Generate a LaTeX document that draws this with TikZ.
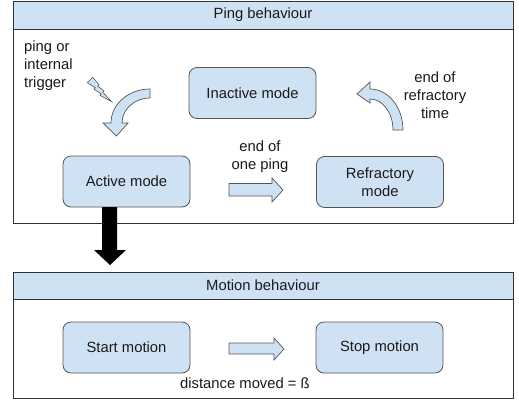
\documentclass[tikz,border=0pt]{standalone}
\usepackage{fontspec}
\setmainfont{Liberation Sans}
\begin{document}
\begin{tikzpicture}[x=1pt,y=-1pt,
  every node/.style={font=\fontsize{14.8}{18}\selectfont, text=txt},
  modebox/.style={draw=boxline, fill=lb, rounded corners=8pt, line width=0.8pt,
    minimum width=127pt, minimum height=51pt, align=center, inner sep=0pt},
  panel/.style={draw=panelline, line width=1pt},
  header/.style={draw=panelline, fill=lb, line width=1pt},
  blockarrow/.style={draw=boxline, fill=lb, line width=0.7pt, line join=miter},
  lbl/.style={align=center, inner sep=0pt}]
\definecolor{lb}{HTML}{CFE2F3}
\definecolor{boxline}{HTML}{555555}
\definecolor{panelline}{HTML}{333333}
\definecolor{txt}{HTML}{1A1A1A}
\useasboundingbox (0,0) rectangle (519,405);
% panels
\draw[panel, fill=white] (13,1) rectangle (513,223);
\draw[header] (13,1) rectangle (513,29);
\node[lbl] (pingtitle) at (263,15) {Ping behaviour};
\draw[panel, fill=white] (13,272) rectangle (513,398);
\draw[header] (13,272) rectangle (513,299);
\node[lbl] (motiontitle) at (263,285.5) {Motion behaviour};
% mode boxes
\node[modebox] (inactive) at (252.5,93) {Inactive mode};
\node[modebox] (active) at (126.5,181.5) {Active mode};
\node[modebox] (refractory) at (380,182) {Refractory\\mode};
\node[modebox] (start) at (126.5,347.5) {Start motion};
\node[modebox] (stop) at (379.5,347.5) {Stop motion};
% labels
\node[lbl, anchor=north west, align=left] (trig) at (24,40.5) {ping or\\internal\\trigger};
\node[lbl] (endping) at (260,157) {end of\\one ping};
\node[lbl] (endref) at (435,95) {end of\\refractory\\time};
\node[lbl] (dist) at (245,383) {distance moved = ß};
% lightning bolt
\draw[blockarrow, line width=0.6pt] (87.3,82.7) -- (92.7,77.3) -- (99.3,85) -- (97.8,86.3) -- (104,90.7) -- (102.7,92.2) -- (111.7,101.7) -- (100,95.3) -- (101.2,93.8) -- (94,89.3) -- (95.5,87.8) -- cycle;
% left curved arrow
\draw[blockarrow] (150,89) arc[start angle=-90, end angle=-180, x radius=39, y radius=34]
  -- (103,123) -- (116.5,136) -- (128,123) -- (122,123)
  arc[start angle=-180, end angle=-90, x radius=28, y radius=25] -- cycle;
% right curved arrow
\draw[blockarrow] (403,130) arc[start angle=0, end angle=-90, x radius=33, y radius=41]
  -- (370,82) -- (357,94) -- (370,103) -- (370,99)
  arc[start angle=-90, end angle=0, x radius=23, y radius=31] -- cycle;
% straight block arrows
\draw[blockarrow] (229,183.5) -- (272,183.5) -- (272,178) -- (283,190) -- (272,202) -- (272,196) -- (229,196) -- cycle;
\draw[blockarrow] (229,343) -- (274,343) -- (274,338) -- (284,349) -- (274,360) -- (274,354) -- (229,354) -- cycle;
% black arrow
\fill[black] (102,207) -- (117,207) -- (117,250) -- (126,250) -- (110,265) -- (94,250) -- (102,250) -- cycle;
\end{tikzpicture}
\end{document}
